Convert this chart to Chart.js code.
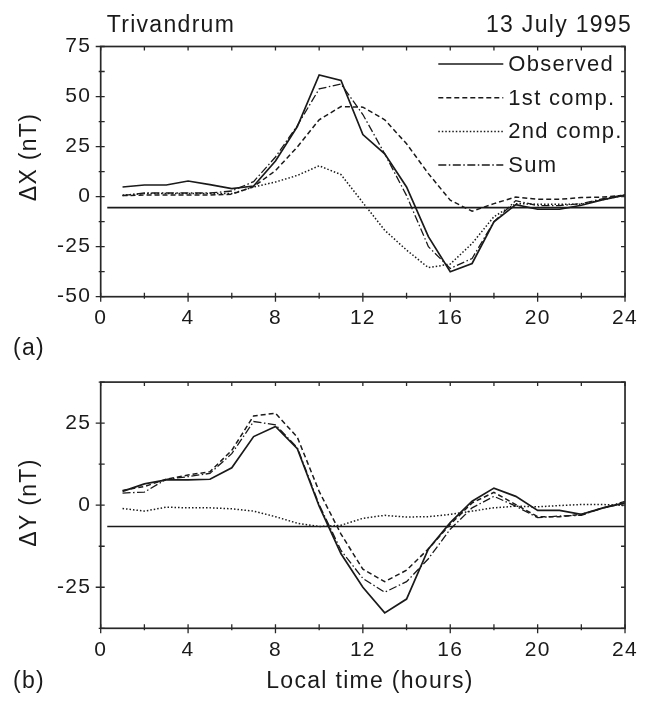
<!DOCTYPE html>
<html>
<head>
<meta charset="utf-8">
<title>Trivandrum 13 July 1995</title>
<script src="https://cdn.jsdelivr.net/npm/chart.js@4.4.1/dist/chart.umd.min.js"></script>
<style>
  html, body { margin: 0; padding: 0; background: #fff; }
  #wrap { position: relative; width: 647px; height: 701px; }
  canvas { position: absolute; left: 0; }
  #topChart { top: 0; }
  #bottomChart { top: 360px; }
</style>
</head>
<body>
<div id="wrap">
  <canvas id="topChart" width="647" height="360"></canvas>
  <canvas id="bottomChart" width="647" height="341"></canvas>
</div>
<script>
// Local time (hours)
const hours = [1, 2, 3, 4, 5, 6, 7, 8, 9, 10, 11, 12, 13, 14, 15, 16, 17, 18, 19, 20, 21, 22, 23, 24];
const seriesLabels = ['Observed', '1st comp.', '2nd comp.', 'Sum'];

// Panel (a): delta X (nT)
const obsX   = [4.8, 5.8, 5.8, 7.8, 6, 4, 5.3, 17.8, 35, 60.8, 58, 31, 21.4, 4.8, -20, -37.5, -33.4, -12.6, -4, -6.3, -6.3, -4.3, -1.5, 0.7];
const comp1X = [0.5, 0.8, 0.8, 0.8, 0.8, 1.2, 5, 13, 24.8, 38.4, 45, 44.7, 38.4, 26.4, 11.5, -1.8, -7.3, -3.5, -0.2, -1.3, -1.3, -0.5, -0.2, 0.7];
const comp2X = [0.7, 1.5, 1.5, 1.5, 1.5, 1.5, 4.8, 7.3, 10.6, 15.4, 11, -3, -16.8, -26.7, -35.5, -33.7, -23.4, -10, -3.5, -3.8, -3.8, -3.8, -1.5, 0.7];
const sumX   = [0.5, 1.8, 1.8, 1.8, 1.8, 2.8, 7.5, 19.8, 35.5, 53.8, 56.3, 41, 21.4, 0.5, -25, -35.9, -30.9, -12.5, -2, -4.5, -4.5, -3.5, -1, 1];
const baseX  = -5.5;

// Panel (b): delta Y (nT)
const obsY   = [4.2, 6.5, 7.7, 7.7, 7.9, 11.4, 20.9, 24, 17.2, -0.3, -14.8, -25, -32.8, -28.6, -13.3, -5.3, 1.2, 5.2, 2.7, -1.6, -1.6, -2.8, -0.8, 0.7];
const comp1Y = [4.5, 5.7, 7.9, 9.2, 10.2, 16.7, 27.2, 28, 20.7, 4.2, -8.8, -19.5, -23.3, -19.8, -13.3, -5.8, 0.7, 3.9, 0.2, -3.5, -3.5, -2.8, -0.8, 0.7];
const comp2Y = [-1, -1.8, -0.6, -0.8, -0.8, -1.1, -1.8, -3.5, -5.5, -6.5, -6.1, -4, -3.1, -3.6, -3.5, -2.8, -1.8, -0.8, -0.3, -0.5, -0.1, 0.2, 0.2, -0.1];
const sumY   = [3.7, 4, 7.9, 8.7, 9.7, 15.7, 25.5, 24.5, 17.5, 0.2, -13.8, -22.3, -26.5, -23.3, -16.3, -7.3, -0.8, 2.7, -0.3, -3.8, -3.3, -3.1, -0.8, 1.2];
const baseY  = -6.5;

// horizontal base line runs from here to the right edge
const baseSpan = [0.3, 24];

// look
const INK = '#1a1a1a';
const AXIS = '#282828';
const FONT = "'Liberation Sans', Arial, sans-serif";
const SPACING = '1.3px';
const LINE_STYLES = [
  { dash: [], width: 1.7 },
  { dash: [5, 3], width: 1.5 },
  { dash: [1.5, 2], width: 1.5 },
  { dash: [8, 2.5, 1.5, 2.5], width: 1.3 }
];

function buildDatasets(series, base) {
  const sets = series.map((vals, i) => ({
    label: seriesLabels[i],
    data: vals.map((v, k) => ({ x: hours[k], y: v })),
    borderColor: INK,
    borderWidth: LINE_STYLES[i].width,
    borderDash: LINE_STYLES[i].dash,
    pointRadius: 0,
    tension: 0,
    fill: false
  }));
  sets.push({
    label: 'base',
    data: baseSpan.map(h => ({ x: h, y: base })),
    borderColor: INK,
    borderWidth: 1.6,
    pointRadius: 0,
    fill: false
  });
  return sets;
}

// frame with mirrored ticks, free text and the inside legend
const annotate = {
  id: 'annotate',
  beforeUpdate(chart) { chart.ctx.letterSpacing = SPACING; },
  beforeDraw(chart) { chart.ctx.letterSpacing = SPACING; },
  afterDraw(chart, args, opts) {
    const { ctx, chartArea: a, scales: { x, y } } = chart;
    ctx.save();
    ctx.setLineDash([]);
    ctx.strokeStyle = AXIS;
    ctx.lineWidth = 1.7;
    ctx.strokeRect(a.left, a.top, a.right - a.left, a.bottom - a.top);

    ctx.lineWidth = 1.3;
    ctx.beginPath();
    x.ticks.forEach(t => {
      const px = x.getPixelForValue(t.value);
      const out = t.label ? 5 : 2;
      ctx.moveTo(px, a.bottom + out);
      ctx.lineTo(px, a.bottom - 4);
      ctx.moveTo(px, a.top);
      ctx.lineTo(px, a.top + 4);
    });
    y.ticks.forEach(t => {
      const py = y.getPixelForValue(t.value);
      const out = t.label ? 5 : 2;
      ctx.moveTo(a.left - out, py);
      ctx.lineTo(a.left + 4, py);
      ctx.moveTo(a.right, py);
      ctx.lineTo(a.right - 4, py);
    });
    ctx.stroke();

    ctx.fillStyle = INK;
    (opts.texts || []).forEach(tx => {
      ctx.save();
      ctx.font = tx.size + 'px ' + FONT;
      ctx.textAlign = tx.align || 'left';
      ctx.textBaseline = tx.baseline || 'alphabetic';
      ctx.translate(tx.x, tx.y);
      if (tx.rotate) ctx.rotate(tx.rotate);
      ctx.fillText(tx.text, 0, 0);
      ctx.restore();
    });

    if (opts.legend) {
      const lg = opts.legend;
      ctx.font = lg.size + 'px ' + FONT;
      ctx.textAlign = 'left';
      ctx.textBaseline = 'middle';
      chart.data.datasets.slice(0, seriesLabels.length).forEach((ds, i) => {
        const ly = lg.rows[i];
        ctx.strokeStyle = INK;
        ctx.lineWidth = ds.borderWidth;
        ctx.setLineDash(ds.borderDash || []);
        ctx.beginPath();
        ctx.moveTo(lg.x0, ly);
        ctx.lineTo(lg.x1, ly);
        ctx.stroke();
        ctx.fillText(ds.label, lg.textX, ly + 1);
      });
    }
    ctx.restore();
  }
};

function makeChart(id, series, base, yMin, yMax, area, extra) {
  return new Chart(document.getElementById(id), {
    type: 'line',
    data: { datasets: buildDatasets(series, base) },
    options: {
      responsive: false,
      animation: false,
      events: [],
      layout: { padding: { left: 0, right: area.right, top: area.top, bottom: 0 } },
      plugins: {
        legend: { display: false },
        tooltip: { enabled: false },
        annotate: extra
      },
      scales: {
        x: {
          type: 'linear',
          min: 0,
          max: 24,
          afterFit: s => { s.height = area.xHeight; },
          grid: { display: false, drawTicks: false },
          border: { display: false },
          ticks: {
            stepSize: 2,
            autoSkip: false,
            maxRotation: 0,
            maxTicksLimit: 30,
            padding: 9,
            color: INK,
            font: { family: FONT, size: 21 },
            callback: v => (v % 4 === 0 ? String(v) : '')
          }
        },
        y: {
          type: 'linear',
          min: yMin,
          max: yMax,
          afterFit: s => { s.width = area.yWidth; },
          grid: { display: false, drawTicks: false },
          border: { display: false },
          ticks: {
            stepSize: 12.5,
            autoSkip: false,
            maxTicksLimit: 30,
            padding: 9.5,
            color: INK,
            font: { family: FONT, size: 21 },
            callback: v => (v % 25 === 0 ? String(v) : '')
          }
        }
      }
    },
    plugins: [annotate]
  });
}

// Panel (a)
makeChart('topChart', [obsX, comp1X, comp2X, sumX], baseX, -50, 75,
  { top: 46.5, right: 13.7, yWidth: 100.7, xHeight: 63.3 },
  {
    texts: [
      { text: 'Trivandrum', x: 106.7, y: 31.7, size: 23 },
      { text: '13 July 1995', x: 632, y: 31.7, size: 23, align: 'right' },
      { text: '\u0394X (nT)', x: 30, y: 157, size: 23, align: 'center', baseline: 'middle', rotate: -Math.PI / 2 },
      { text: '(a)', x: 13, y: 355, size: 23 }
    ],
    legend: { x0: 438.3, x1: 503.3, textX: 508.3, rows: [64, 97.7, 131.4, 165], size: 22 }
  });

// Panel (b)
makeChart('bottomChart', [obsY, comp1Y, comp2Y, sumY], baseY, -37.5, 37.5,
  { top: 17, right: 13.7, yWidth: 100.7, xHeight: 72.7 },
  {
    texts: [
      { text: '\u0394Y (nT)', x: 30, y: 142.5, size: 23, align: 'center', baseline: 'middle', rotate: -Math.PI / 2 },
      { text: '(b)', x: 13, y: 328, size: 23 },
      { text: 'Local time (hours)', x: 370, y: 328, size: 23, align: 'center' }
    ]
  });
</script>
</body>
</html>
